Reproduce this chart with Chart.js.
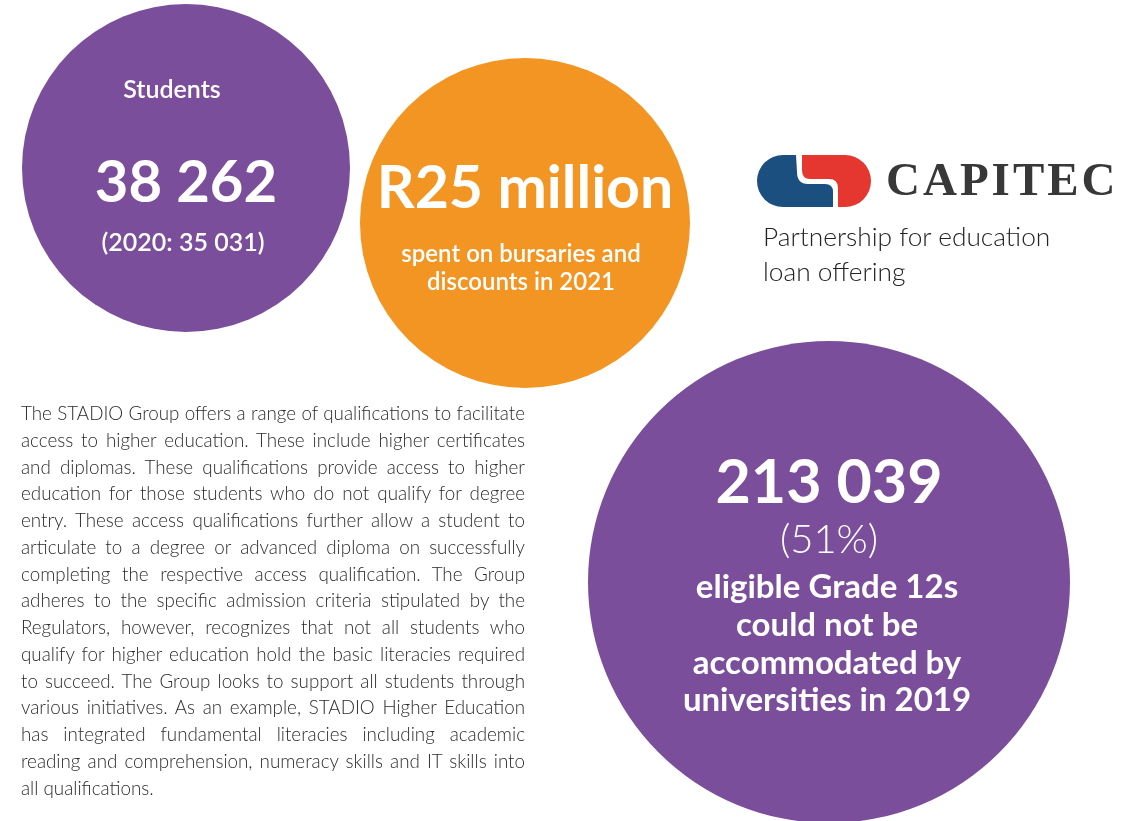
<!DOCTYPE html>
<html>
<head>
<meta charset="utf-8">
<script src="https://cdn.jsdelivr.net/npm/chart.js@4"></script>
<style>
  html, body { margin: 0; padding: 0; background: #fff; }
  #wrap { position: relative; width: 1140px; height: 821px; overflow: hidden; font-family: Lato, "Open Sans", sans-serif; }
  #chart { position: absolute; left: 0; top: 0; }
  .t { position: absolute; white-space: nowrap; color: #fff; text-align: center; transform: translate(-50%, -50%); line-height: 1; }
  #para { position: absolute; left: 21px; top: 400px; width: 504px; font-size: 18.8px; font-weight: 300; color: #2b2b2b; line-height: 26.75px; }
  #para div { text-align: justify; text-align-last: justify; white-space: nowrap; }
  #para div.last { text-align-last: left; }
  #capitec { position: absolute; left: 886px; top: 156px; font-family: "Liberation Serif", serif; font-weight: bold; font-size: 47px; color: #383838; letter-spacing: 3px; line-height: 1; }
  #partner { position: absolute; left: 763px; top: 219px; font-size: 26.3px; font-weight: 300; color: #222; line-height: 35px; }
</style>
</head>
<body>
<div id="wrap">
  <canvas id="chart" width="1140" height="821"></canvas>
  <div id="labels"></div>
  <div id="capitec">CAPITEC</div>
  <div id="partner">Partnership for education<br>loan offering</div>
  <div id="para"></div>
</div>
<script>
// figures shown in the circles
const categories = ["Students", "Bursaries and discounts", "Grade 12s not accommodated"]
const values = [38262, 25, 213039]
const priorStudents = 35031
const notAccommodatedPct = 51

// bubble placement on a 1140 x 821 page scale
const bubbleX = [186, 525, 829]
const bubbleY = [168, 223, 582]
const bubbleR = [164, 165, 241]
const bubbleColors = ["#7b4e9c", "#f39522", "#7b4e9c"]

const paragraph = [
  "The STADIO Group offers a range of qualifications to facilitate",
  "access to higher education. These include higher certificates",
  "and diplomas. These qualifications provide access to higher",
  "education for those students who do not qualify for degree",
  "entry. These access qualifications further allow a student to",
  "articulate to a degree or advanced diploma on successfully",
  "completing the respective access qualification. The Group",
  "adheres to the specific admission criteria stipulated by the",
  "Regulators, however, recognizes that not all students who",
  "qualify for higher education hold the basic literacies required",
  "to succeed. The Group looks to support all students through",
  "various initiatives. As an example, STADIO Higher Education",
  "has integrated fundamental literacies including academic",
  "reading and comprehension, numeracy skills and IT skills into",
  "all qualifications."
]

const fmt = (n) => String(n).replace(/\B(?=(\d{3})+(?!\d))/g, " ")

// bubble charts pad the chart area by the largest radius, so the
// scale range is shrunk by the same amount to keep page coordinates
const pad = Math.max(...bubbleR)

// capitec logo mark, drawn on the chart canvas
const logoPlugin = {
  id: "logo",
  afterDraw(chart) {
    const c = chart.ctx
    c.save()
    c.fillStyle = "#1b4f80"
    c.beginPath()
    c.moveTo(796, 155)
    c.lineTo(783, 155)
    c.arc(783, 181, 26, -Math.PI / 2, Math.PI / 2, true)
    c.lineTo(833, 207)
    c.lineTo(833, 192)
    c.quadraticCurveTo(833, 184, 825, 184)
    c.lineTo(808, 184)
    c.quadraticCurveTo(797, 184, 797, 172)
    c.closePath()
    c.fill()
    c.fillStyle = "#e5362f"
    c.beginPath()
    c.moveTo(802, 155)
    c.lineTo(845, 155)
    c.arc(845, 181, 26, -Math.PI / 2, Math.PI / 2, false)
    c.lineTo(838, 207)
    c.lineTo(838, 188)
    c.quadraticCurveTo(838, 179, 829, 179)
    c.lineTo(810, 179)
    c.quadraticCurveTo(802, 179, 802, 170)
    c.closePath()
    c.fill()
    c.restore()
  }
}

new Chart(document.getElementById("chart").getContext("2d"), {
  type: "bubble",
  data: {
    labels: categories,
    datasets: [{
      data: bubbleX.map((x, i) => ({ x: x, y: bubbleY[i], r: bubbleR[i], v: values[i] })),
      backgroundColor: bubbleColors,
      hoverBackgroundColor: bubbleColors,
      borderWidth: 0,
      hoverBorderWidth: 0,
      hoverRadius: 0,
      clip: false
    }]
  },
  options: {
    responsive: false,
    animation: false,
    events: [],
    layout: { padding: 0 },
    plugins: { legend: { display: false }, tooltip: { enabled: false } },
    scales: {
      x: { type: "linear", min: pad, max: 1140 - pad, display: false },
      y: { type: "linear", min: pad, max: 821 - pad, reverse: true, display: false }
    }
  },
  plugins: [logoPlugin]
})

// text inside the circles
const labels = [
  { x: 172, y: 88, size: 25, weight: 600, text: categories[0] },
  { x: 186, y: 180, size: 58, weight: 700, text: fmt(values[0]) },
  { x: 183, y: 241, size: 25, weight: 600, text: "(2020: " + fmt(priorStudents) + ")" },
  { x: 525, y: 185, size: 59, weight: 700, text: "R" + values[1] + " million" },
  { x: 521, y: 253, size: 24, weight: 600, text: "spent on bursaries and" },
  { x: 521, y: 281, size: 24, weight: 600, text: "discounts in 2021" },
  { x: 829, y: 479, size: 61, weight: 700, text: fmt(values[2]) },
  { x: 829, y: 538, size: 40, weight: 300, text: "(" + notAccommodatedPct + "%)" },
  { x: 827, y: 585, size: 33, weight: 700, text: "eligible Grade 12s" },
  { x: 827, y: 623, size: 33, weight: 700, text: "could not be" },
  { x: 827, y: 661, size: 33, weight: 700, text: "accommodated by" },
  { x: 827, y: 698, size: 33, weight: 700, text: "universities in 2019" }
]
const box = document.getElementById("labels")
labels.forEach((l) => {
  const d = document.createElement("div")
  d.className = "t"
  d.style.left = l.x + "px"
  d.style.top = l.y + "px"
  d.style.fontSize = l.size + "px"
  d.style.fontWeight = l.weight
  d.textContent = l.text
  box.appendChild(d)
})

const para = document.getElementById("para")
paragraph.forEach((line, i) => {
  const d = document.createElement("div")
  if (i === paragraph.length - 1) d.className = "last"
  d.textContent = line
  para.appendChild(d)
})
</script>
</body>
</html>
